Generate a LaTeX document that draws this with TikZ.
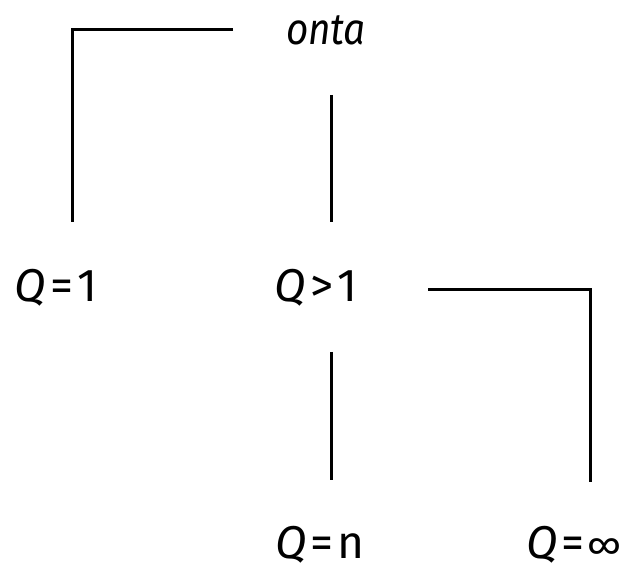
\documentclass[tikz,border=0pt]{standalone}
\usepackage{fontspec}
\setmainfont{Fira Sans}
\begin{document}
\begin{tikzpicture}[x=1pt,y=-1pt,
  lbl/.style={inner sep=0pt,font=\fontsize{46}{50}\selectfont},
  conn/.style={line width=3pt}]
\useasboundingbox (0,0) rectangle (625,575);
\node[lbl,font=\fontsize{44}{48}\selectfont,xscale=0.88] (onta) at (326,30) {\itshape onta};
\node[lbl] (q1) at (56,288) {\itshape Q\/\kern4pt\upshape=\kern4pt1};
\node[lbl] (qg) at (316,288) {\itshape Q\/\kern4pt\upshape>\kern4pt1};
\node[lbl] (qn) at (320,545) {\itshape Q\/\kern3pt\upshape=\kern4pt n};
\node[lbl] (qi) at (574,545) {\itshape Q\/\kern3pt\upshape=\kern3pt{\fontsize{38}{40}\selectfont ∞}};
\coordinate (a1) at (233,30);
\coordinate (a2) at (72,222);
\coordinate (b1) at (331,95);
\coordinate (b2) at (331,222);
\coordinate (c1) at (428,290);
\coordinate (c2) at (590,482);
\coordinate (d1) at (331,352);
\coordinate (d2) at (331,480);
\draw[conn] (a1) -| (a2);
\draw[conn] (b1) -- (b2);
\draw[conn] (c1) -| (c2);
\draw[conn] (d1) -- (d2);
\end{tikzpicture}
\end{document}
